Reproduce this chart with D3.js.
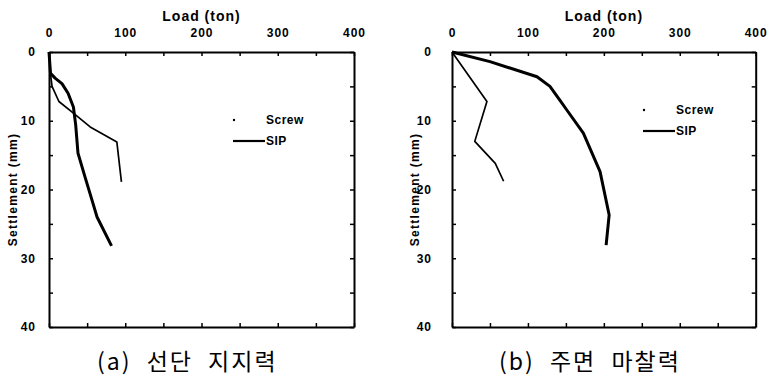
<!DOCTYPE html>
<html>
<head>
<meta charset="utf-8">
<script src="https://cdn.jsdelivr.net/npm/d3@7"></script>
<style>
  html, body { margin: 0; padding: 0; background: #fff; }
  svg { display: block; }
  .tick text { font-family: "Liberation Sans", Arial, sans-serif; font-weight: bold; font-size: 12px; letter-spacing: 1px; fill: #000; }
</style>
</head>
<body>
<svg id="chart" width="768" height="379"></svg>
<script>
// ---- Data (Load in ton, Settlement in mm) ----
const xTicks = [0, 50, 100, 150, 200, 250, 300, 350, 400];
const yTicks = [0, 5, 10, 15, 20, 25, 30, 35, 40];
const seriesNames = ["Screw", "SIP"];
const xTitle = "Load (ton)";
const yTitle = "Settlement (mm)";
const captions = ["(a) 선단 지지력", "(b) 주면 마찰력"];

// Panel (a) 선단 지지력
const aScrewLoad = [0, 2, 4, 13, 32, 54, 89, 95];
const aScrewSet  = [0, 3.2, 5.0, 7.2, 8.9, 10.9, 13.1, 18.9];
const aSipLoad   = [0, 2, 8, 17, 25, 32, 35, 38, 47, 56, 63, 82];
const aSipSet    = [0, 3.1, 3.8, 4.6, 6.0, 8.0, 10.6, 14.7, 18.1, 21.4, 24.0, 28.2];

// Panel (b) 주면 마찰력
const bScrewLoad = [0, 46, 30, 57, 68];
const bScrewSet  = [0, 7.2, 13.0, 16.2, 18.8];
const bSipLoad   = [0, 50, 112, 129, 142, 151, 173, 195, 207, 203];
const bSipSet    = [0, 1.4, 3.6, 5.0, 7.0, 8.4, 11.8, 17.4, 23.7, 28.1];

const panels = [
  { x0: 49, x1: 354, yPad: 13, yTitleX: 12.5, legX: 233, legY: 120, capX: 97,
    screw: [aScrewLoad, aScrewSet], sip: [aSipLoad, aSipSet], caption: captions[0] },
  { x0: 452, x1: 755.7, yPad: 20, yTitleX: 415, legX: 643, legY: 110, capX: 499,
    screw: [bScrewLoad, bScrewSet], sip: [bSipLoad, bSipSet], caption: captions[1] }
];

const svg = d3.select("#chart");
const yTop = 52, yBot = 327;

panels.forEach(p => {
  const x = d3.scaleLinear().domain([0, 400]).range([p.x0, p.x1]);
  const y = d3.scaleLinear().domain([0, 40]).range([yTop, yBot]);
  const g = svg.append("g");

  const fmtX = d => (d % 100 === 0 ? d : "");
  const fmtY = d => (d % 10 === 0 ? d : "");

  const top = g.append("g").attr("transform", `translate(0,${yTop})`)
    .call(d3.axisTop(x).tickValues(xTicks).tickSizeInner(-4).tickSizeOuter(0).tickPadding(15).tickFormat(fmtX));
  const bottom = g.append("g").attr("transform", `translate(0,${yBot})`)
    .call(d3.axisBottom(x).tickValues(xTicks).tickSizeInner(-4).tickSizeOuter(0).tickFormat(""));
  const left = g.append("g").attr("transform", `translate(${p.x0},0)`)
    .call(d3.axisLeft(y).tickValues(yTicks).tickSizeInner(-4).tickSizeOuter(0).tickPadding(p.yPad).tickFormat(fmtY));
  const right = g.append("g").attr("transform", `translate(${p.x1},0)`)
    .call(d3.axisRight(y).tickValues(yTicks).tickSizeInner(-4).tickSizeOuter(0).tickFormat(""));

  [top, bottom, left, right].forEach(a => {
    a.select(".domain").attr("stroke", "#000").attr("stroke-width", 2);
    a.selectAll(".tick line").attr("stroke", "#000").attr("stroke-width", 1.5);
  });

  // titles
  g.append("text").attr("x", (p.x0 + p.x1) / 2).attr("y", 21)
    .attr("text-anchor", "middle")
    .style("font-family", '"Liberation Sans", Arial, sans-serif').style("font-weight", "bold")
    .style("font-size", "14px").style("letter-spacing", "1px").text(xTitle);
  g.append("text").attr("transform", `translate(${p.yTitleX + 4},${(yTop + yBot) / 2}) rotate(-90)`)
    .attr("text-anchor", "middle")
    .style("font-family", '"Liberation Sans", Arial, sans-serif').style("font-weight", "bold")
    .style("font-size", "12px").style("letter-spacing", "1.3px").text(yTitle);

  // lines
  const line = d3.line().x(d => x(d[0])).y(d => y(d[1]));
  const zipS = p.screw[0].map((v, i) => [v, p.screw[1][i]]);
  const zipP = p.sip[0].map((v, i) => [v, p.sip[1][i]]);
  g.append("path").datum(zipS).attr("d", line).attr("fill", "none")
    .attr("stroke", "#000").attr("stroke-width", 1.7).attr("stroke-linejoin", "round");
  g.append("path").datum(zipP).attr("d", line).attr("fill", "none")
    .attr("stroke", "#000").attr("stroke-width", 3).attr("stroke-linejoin", "round");

  // legend
  const leg = g.append("g");
  leg.append("circle").attr("cx", p.legX + 1).attr("cy", p.legY).attr("r", 1.2).attr("fill", "#000");
  leg.append("line").attr("x1", p.legX).attr("x2", p.legX + 32).attr("y1", p.legY + 21).attr("y2", p.legY + 21)
    .attr("stroke", "#000").attr("stroke-width", 2.2);
  seriesNames.forEach((n, i) => {
    leg.append("text").attr("x", p.legX + 33).attr("y", p.legY + 4 + i * 21)
      .style("font-family", '"Liberation Sans", Arial, sans-serif').style("font-weight", "bold")
      .style("font-size", "12px").style("letter-spacing", "0.5px").text(n);
  });

  // caption
  g.append("text").attr("x", p.capX).attr("y", 370)
    .style("font-family", '"Noto Sans CJK KR", sans-serif').style("font-weight", "400")
    .style("font-size", "23px").style("letter-spacing", "2px").style("word-spacing", "8px")
    .text(p.caption);
});
</script>
</body>
</html>
